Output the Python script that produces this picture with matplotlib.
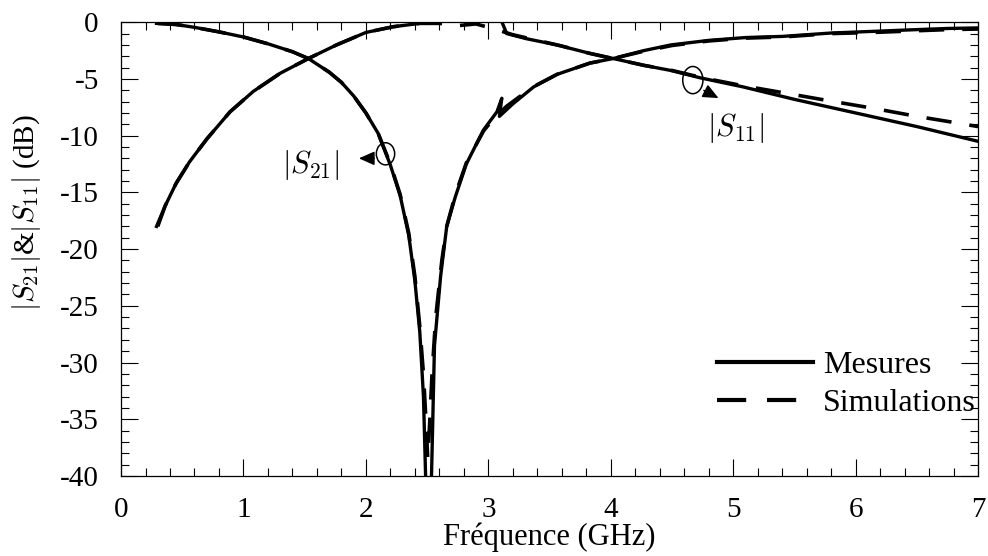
import matplotlib
matplotlib.use("Agg")
import matplotlib.pyplot as plt
from matplotlib.patches import Ellipse
from matplotlib.ticker import MultipleLocator

plt.rcParams['font.family'] = ['Liberation Serif', 'DejaVu Serif']
plt.rcParams['mathtext.fontset'] = 'cm'
plt.rcParams['font.size'] = 21
plt.rcParams['axes.unicode_minus'] = False

# |S21| mesures
mes_s21_x = [0.29, 0.45, 0.6, 0.8, 1.0, 1.2, 1.4, 1.53, 1.7, 1.8, 1.9, 2.0, 2.1, 2.2,
             2.28, 2.35, 2.40, 2.44, 2.47, 2.50, 2.525, 2.54, 2.56, 2.61, 2.66, 2.73,
             2.82, 2.96, 3.07, 3.11, 3.09, 3.20, 3.37, 3.56, 3.83, 4.02, 4.27, 4.49,
             4.8, 5.1, 5.4, 5.8, 6.15, 6.5, 6.75, 7.0]
mes_s21_y = [-0.1, -0.2, -0.45, -0.85, -1.3, -1.9, -2.6, -3.2, -4.4, -5.3, -6.5, -8.0,
             -9.8, -12.6, -15.3, -18.8, -22.8, -27.3, -33.0, -45.0, -45.0, -38.0, -28.5,
             -22.4, -18.0, -15.4, -12.5, -9.5, -7.9, -6.7, -8.3, -7.2, -5.7, -4.6, -3.6,
             -3.2, -2.5, -2.0, -1.6, -1.35, -1.25, -0.95, -0.8, -0.65, -0.55, -0.5]

# |S21| simulations
sim_s21_x = [0.3, 0.45, 0.6, 0.8, 1.0, 1.2, 1.4, 1.53, 1.7, 1.8, 1.9, 2.0, 2.1, 2.2,
             2.28, 2.35, 2.40, 2.44, 2.47, 2.49, 2.505, 2.52, 2.54, 2.57, 2.62, 2.66,
             2.73, 2.82, 2.96, 3.05, 3.15, 3.25, 3.4, 3.56, 3.83, 4.02, 4.27, 4.5, 4.8,
             5.1, 5.4, 5.8, 6.15, 6.5, 6.75, 7.0]
sim_s21_y = [-0.1, -0.2, -0.45, -0.85, -1.3, -1.9, -2.6, -3.2, -4.4, -5.3, -6.5, -8.0,
             -9.8, -12.5, -15.2, -18.6, -22.4, -26.8, -31.0, -35.0, -38.5, -35.5, -31.0,
             -26.0, -21.0, -18.0, -15.2, -12.4, -9.6, -8.4, -7.4, -6.6, -5.5, -4.6,
             -3.6, -3.2, -2.55, -2.05, -1.65, -1.4, -1.3, -1.0, -0.9, -0.75, -0.65, -0.6]

# |S11| mesures
mes_s11_x = [0.29, 0.36, 0.45, 0.56, 0.70, 0.89, 1.08, 1.30, 1.53, 1.76, 2.0, 2.22,
             2.44, 2.55, 2.8, 3.0, 3.1, 3.15, 3.31, 3.56, 3.83, 4.02, 4.27, 4.49, 4.73,
             5.08, 5.5, 6.0, 6.5, 7.0]
mes_s11_y = [-18.0, -16.2, -14.2, -12.3, -10.3, -7.9, -6.1, -4.5, -3.2, -2.0, -0.9,
             -0.4, -0.1, 0.4, 0.8, 0.8, 0.3, -1.0, -1.45, -2.0, -2.75, -3.2, -3.8,
             -4.25, -4.9, -5.7, -6.8, -8.0, -9.2, -10.5]

# |S11| simulations
sim_s11_x = [0.3, 0.36, 0.45, 0.56, 0.70, 0.89, 1.08, 1.30, 1.53, 1.76, 2.0, 2.22,
             2.44, 2.6, 2.75, 2.9, 3.05, 3.2, 3.4, 3.6, 3.83, 4.02, 4.27, 4.5, 4.75,
             5.08, 5.4, 5.77, 6.15, 6.5, 6.84, 7.0]
sim_s11_y = [-18.0, -16.2, -14.2, -12.3, -10.3, -7.9, -6.1, -4.5, -3.2, -2.0, -0.9,
             -0.4, -0.1, -0.1, -0.3, -0.15, -0.6, -1.1, -1.6, -2.1, -2.75, -3.2, -3.8,
             -4.25, -4.9, -5.6, -6.2, -6.9, -7.6, -8.3, -8.9, -9.2]

fig = plt.figure(figsize=(9.88, 5.56), dpi=100)
ax = fig.add_axes([0.1225, 0.144, 0.8675, 0.816])

ax.plot(mes_s21_x, mes_s21_y, color='black', lw=2.4, label='Mesures')
ax.plot(mes_s11_x, mes_s11_y, color='black', lw=2.4)
ax.plot(sim_s21_x, sim_s21_y, color='black', lw=2.6, dashes=(7, 5), label='Simulations')
ax.plot(sim_s11_x, sim_s11_y, color='black', lw=2.6, dashes=(7, 5))

ax.set_xlim(0, 7)
ax.set_ylim(-40, 0)
ax.xaxis.set_major_locator(MultipleLocator(1))
ax.xaxis.set_minor_locator(MultipleLocator(0.2))
ax.yaxis.set_major_locator(MultipleLocator(5))
ax.yaxis.set_minor_locator(MultipleLocator(1))
ax.tick_params(which='both', direction='in', top=True, right=True, width=0.8)
ax.tick_params(which='major', length=12)
ax.tick_params(axis='y', which='major', pad=16)
ax.tick_params(axis='x', which='major', pad=15)
ax.tick_params(which='minor', length=6)
for s in ax.spines.values():
    s.set_linewidth(0.9)

ax.set_xlabel('Fréquence (GHz)', fontsize=22, labelpad=0)
ax.set_ylabel(r'$|S_{21}|$&$|S_{11}|$ (dB)', fontsize=21)
ax.yaxis.set_label_coords(-0.091, 0.58)

# annotations
arrow_style = dict(arrowstyle='-|>,head_length=0.45,head_width=0.2', lw=1.1, color='black')
ax.add_patch(Ellipse((2.16, -11.6), 0.15, 1.95, fill=False, lw=1.1))
ax.annotate('', xy=(1.92, -12.0), xytext=(2.09, -12.0), arrowprops=arrow_style)
ax.text(1.55, -12.6, r'$|S_{21}|$', ha='center', va='center', fontsize=22)

ax.add_patch(Ellipse((4.67, -5.1), 0.165, 2.4, fill=False, lw=1.1))
ax.annotate('', xy=(4.9, -6.8), xytext=(4.74, -5.9), arrowprops=arrow_style)
ax.text(5.02, -9.3, r'$|S_{11}|$', ha='center', va='center', fontsize=22)

leg = ax.legend(loc='lower right', bbox_to_anchor=(1.012, 0.1), frameon=False,
                handlelength=3.0, handletextpad=0.3, labelspacing=0.25, fontsize=23,
                borderaxespad=0.0)
for h in leg.get_lines():
    h.set_linewidth(3.0)

fig.savefig('out.png', dpi=100)
